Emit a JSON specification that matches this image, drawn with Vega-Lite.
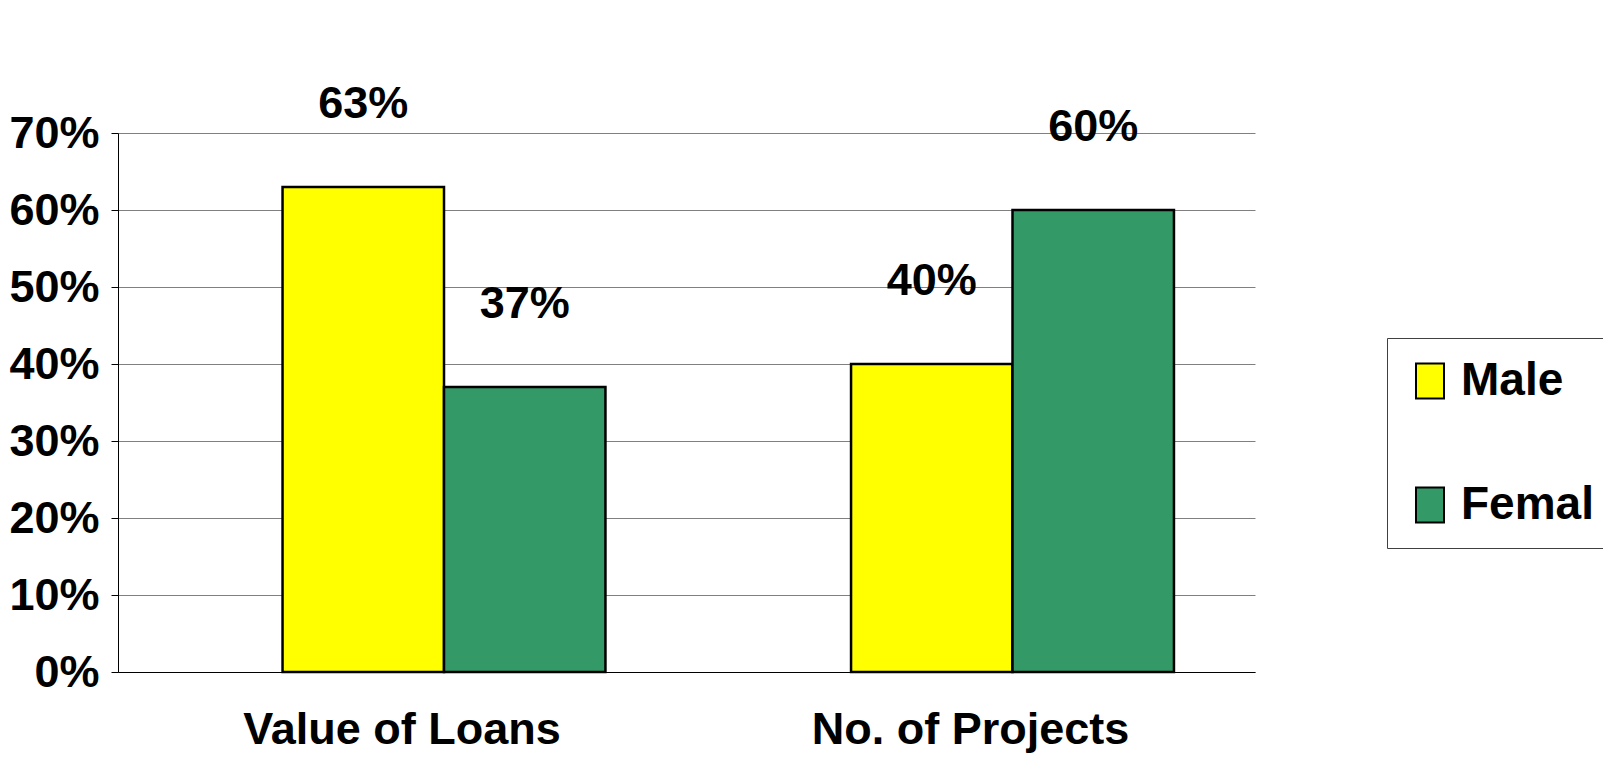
{
  "$schema": "https://vega.github.io/schema/vega-lite/v6.json",
  "width": 1137,
  "height": 539,
  "autosize": {"type": "none"},
  "padding": {"left": 118, "top": 133, "right": 348, "bottom": 85},
  "background": "white",
  "config": {"view": {"stroke": null}, "font": "Liberation Sans"},
  "data": {
    "values": [
      {"category": "Value of Loans", "gender": "Male", "share": 0.63},
      {"category": "Value of Loans", "gender": "Femal", "share": 0.37},
      {"category": "No. of Projects", "gender": "Male", "share": 0.40},
      {"category": "No. of Projects", "gender": "Femal", "share": 0.60}
    ]
  },
  "encoding": {
    "x": {
      "field": "category",
      "type": "nominal",
      "sort": ["Value of Loans", "No. of Projects"],
      "scale": {"paddingInner": 0.432, "paddingOuter": 0.216, "align": 0.67},
      "axis": {
        "title": null,
        "labelAngle": 0,
        "labelLimit": 0,
        "labelFont": "Liberation Sans",
        "labelFontWeight": "bold",
        "labelFontSize": 45,
        "labelColor": "black",
        "labelPadding": 35,
        "labelOffset": -42,
        "ticks": false,
        "domainColor": "black",
        "domainWidth": 1
      }
    },
    "xOffset": {"field": "gender", "type": "nominal", "sort": ["Male", "Femal"]},
    "y": {
      "field": "share",
      "type": "quantitative",
      "scale": {"domain": [0, 0.7]},
      "axis": {
        "title": null,
        "format": ".0%",
        "values": [0, 0.1, 0.2, 0.3, 0.4, 0.5, 0.6, 0.7],
        "labelFont": "Liberation Sans",
        "labelFontWeight": "bold",
        "labelFontSize": 45,
        "labelColor": "black",
        "labelPadding": 12,
        "tickSize": 7,
        "tickColor": "black",
        "domainColor": "black",
        "grid": true,
        "gridColor": "#808080",
        "gridWidth": 1
      }
    }
  },
  "layer": [
    {
      "mark": {"type": "bar", "stroke": "black", "strokeWidth": 2.5},
      "encoding": {
        "color": {
          "field": "gender",
          "type": "nominal",
          "scale": {"domain": ["Male", "Femal"], "range": ["#FFFF00", "#339966"]},
          "legend": {
            "title": null,
            "orient": "none",
            "legendX": 1269,
            "legendY": 205,
            "fillColor": "white",
            "strokeColor": "#404040",
            "padding": 20,
            "symbolType": "M-0.8,-1L0.8,-1L0.8,1L-0.8,1Z",
            "symbolSize": 1225,
            "symbolStrokeColor": "black",
            "symbolStrokeWidth": 2,
            "symbolOpacity": 1,
            "labelFont": "Liberation Sans",
            "labelFontWeight": "bold",
            "labelFontSize": 46,
            "labelColor": "black",
            "labelOffset": 8,
            "rowPadding": 78
          }
        }
      }
    },
    {
      "mark": {
        "type": "text",
        "baseline": "bottom",
        "dy": -60,
        "font": "Liberation Sans",
        "fontWeight": "bold",
        "fontSize": 45,
        "color": "black"
      },
      "encoding": {"text": {"field": "share", "type": "quantitative", "format": ".0%"}}
    }
  ]
}
